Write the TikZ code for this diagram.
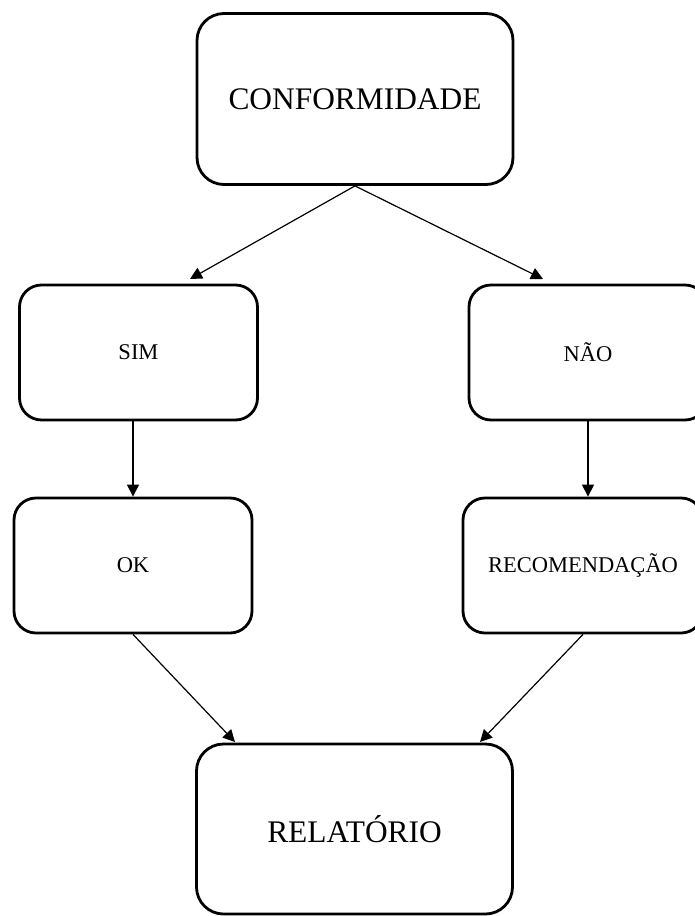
\documentclass[tikz,border=0pt]{standalone}
\usepackage{fontspec}
\setmainfont{Liberation Serif}
\usetikzlibrary{arrows.meta}
\tikzset{
  caixa/.style={draw, line width=2.8pt, rounded corners=22pt, inner sep=0pt,
    minimum width=238pt, minimum height=135pt, font=\fontsize{22.5}{26}\selectfont},
  grande/.style={caixa, rounded corners=27pt, minimum width=316pt,
    minimum height=171pt, font=\fontsize{31.4}{36}\selectfont},
  seta/.style={-{Triangle[length=12pt,width=12pt]}, line width=1.2pt}
}
\begin{document}
\begin{tikzpicture}[x=1pt,y=-1pt]
      \useasboundingbox (0,0) rectangle (694,916);
      \draw
        (355,99) node[grande] (conf){CONFORMIDADE}
        (138.5,352.5) node[caixa] (sim){SIM}
        (588,352.5) node[caixa] (nao){NÃO}
        (133,565.5) node[caixa] (ok){OK}
        (583,565.5) node[caixa, minimum width=240pt] (rec){RECOMENDAÇÃO}
        (354.5,829) node[grande, minimum height=170pt] (rel){RELATÓRIO};
      \coordinate (simtip) at (190,279);
      \coordinate (naotip) at (543,279);
      \coordinate (reltip1) at (235,742);
      \coordinate (reltip2) at (480,742);
      \begin{scope}[seta]
        \draw (conf.south) to (simtip);
        \draw (conf.south) to (naotip);
        \draw (ok.north |- sim.south) to (ok.north);
        \draw (nao.south) to (nao.south |- rec.north);
        \draw (ok.south) to (reltip1);
        \draw (rec.south) to (reltip2);
      \end{scope}
    \end{tikzpicture}
\end{document}
